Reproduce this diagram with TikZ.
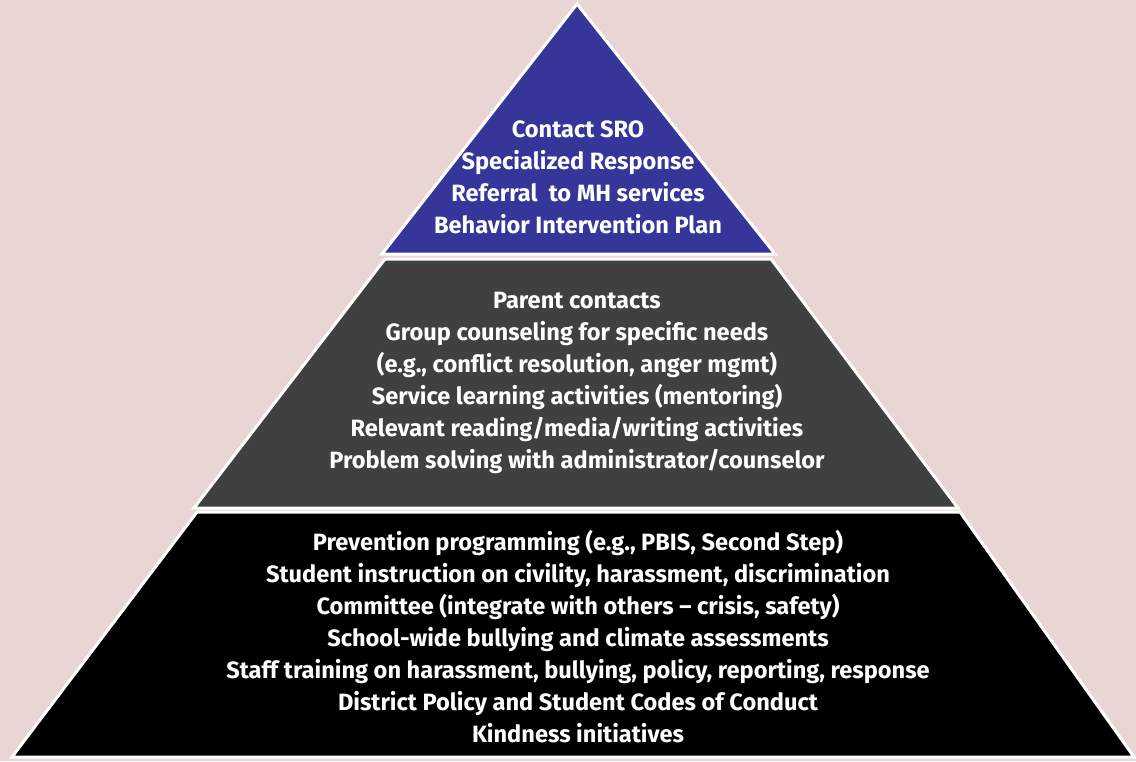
\documentclass[tikz,border=0pt]{standalone}
\usepackage{fontspec}
\setmainfont{Fira Sans}
\definecolor{bg}{HTML}{E9D6D4}
\definecolor{tierblue}{HTML}{35359A}
\definecolor{tiergray}{HTML}{404040}
\begin{document}
\begin{tikzpicture}[x=1pt,y=-1pt,
  tier/.style={draw=white,line width=3pt,line join=miter},
  tiertext/.style={text=white,align=center,font=\fontsize{23.6}{32}\selectfont\bfseries,inner sep=0pt}]
\fill[bg] (0,0) rectangle (1136,761);
\useasboundingbox (0,0) rectangle (1136,761);
% top tier
\filldraw[tier,fill=tierblue] (577,4) -- (775,254) -- (382,254) -- cycle;
% middle tier
\filldraw[tier,fill=tiergray] (385,259) -- (771,259) -- (958,508) -- (194,508) -- cycle;
% bottom tier
\filldraw[tier,fill=black] (197,512) -- (960,512) -- (1134,757) -- (12,757) -- cycle;
\node[tiertext] (toptext) at (578,177) {Contact SRO\\Specialized Response\\Referral\ \ to MH services\\Behavior Intervention Plan};
\node[tiertext] (midtext) at (577,383) {Parent contacts\\Group counseling for specific needs\\(e.g., conflict resolution, anger mgmt)\\Service learning activities (mentoring)\\Relevant reading/media/writing activities\\Problem solving with administrator/counselor};
\node[tiertext] (bottext) at (578,637) {Prevention programming (e.g., PBIS, Second Step)\\Student instruction on civility, harassment, discrimination\\Committee (integrate with others -- crisis, safety)\\School-wide bullying and climate assessments\\Staff training on harassment, bullying, policy, reporting, response\\District Policy and Student Codes of Conduct\\Kindness initiatives};
\end{tikzpicture}
\end{document}
